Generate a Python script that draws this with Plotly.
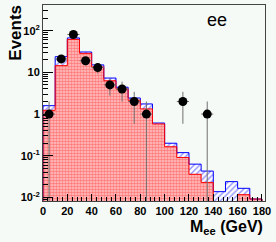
import plotly.graph_objects as go

# ---- data ----
bin_edges = [0, 10, 20, 30, 40, 50, 60, 70, 80, 90, 100, 110, 120, 130, 140, 150, 160, 170, 180]
bin_centers = [5, 15, 25, 35, 45, 55, 65, 75, 85, 95, 105, 115, 125, 135, 145, 155, 165, 175]
total_mc = [1.59, 23.8, 67, 30.8, 15.1, 7.3, 4.4, 2.43, 1.75, 0.61, 0.20, 0.119, 0.063, 0.043,
            0.0138, 0.024, 0.0166, 0.0092]
signal_mc = [1.23, 14.5, 61.7, 28.6, 13.5, 6.3, 3.98, 2.15, 1.33, 0.58, 0.165, 0.091, 0.036, 0.023,
             0, 0, 0.0117, 0.0092]
data_x = [5, 15, 25, 35, 45, 55, 65, 75, 85, 115, 135]
data_y = [1, 21, 81, 19, 13, 5, 4, 2, 1, 2, 1]
data_err = [v ** 0.5 for v in data_y]
data_xerr = [5] * len(data_x)

y_tickvals = [0.01, 0.1, 1, 10, 100]
y_ticktext = ["10<sup>-2</sup>", "10<sup>-1</sup>", "1", "10", "10<sup>2</sup>"]
x_tickvals = [0, 20, 40, 60, 80, 100, 120, 140, 160, 180]

BG = "#f6faf6"
FONT = "Liberation Sans, Arial, Helvetica, sans-serif"


def step(vals):
    floor = 1e-5
    xs = [bin_edges[0]] + bin_edges[:]
    ys = [floor] + [v if v > 0 else floor for v in vals] + [floor]
    return xs, ys


fig = go.Figure()

# total MC (blue hatched)
fig.add_trace(go.Bar(
    x=bin_centers, y=total_mc, width=10,
    marker=dict(color="rgba(0,0,0,0)", line=dict(width=0),
                pattern=dict(shape="/", fgcolor="#2020ff", bgcolor="#ffffff", size=4, solidity=0.35)),
    showlegend=False, hoverinfo="skip"))
# signal MC (red checkered)
fig.add_trace(go.Bar(
    x=bin_centers, y=[v if v > 0 else None for v in signal_mc], width=10,
    marker=dict(color="rgba(0,0,0,0)", line=dict(width=0),
                pattern=dict(shape=".", fgcolor="#ff2a2a", bgcolor="#ffcaca", size=3, solidity=0.6)),
    showlegend=False, hoverinfo="skip"))

sx, sy = step(total_mc)
fig.add_trace(go.Scatter(x=sx, y=sy, mode="lines", line=dict(color="#0000ff", width=1, shape="hv"),
                         showlegend=False, hoverinfo="skip"))
sx, sy = step(signal_mc)
fig.add_trace(go.Scatter(x=sx, y=sy, mode="lines", line=dict(color="#ff0000", width=1, shape="hv"),
                         showlegend=False, hoverinfo="skip"))

# data points
fig.add_trace(go.Scatter(
    x=data_x, y=data_y, mode="markers",
    marker=dict(color="black", size=9),
    error_y=dict(type="data", array=data_err, arrayminus=data_err, color="#707070", thickness=1, width=0),
    error_x=dict(type="data", array=data_xerr, color="#707070", thickness=1, width=0),
    showlegend=False, hoverinfo="skip"))

minor_y = [m * 10 ** e for e in range(-3, 3) for m in range(2, 10)]

fig.update_layout(
    width=276, height=242,
    margin=dict(l=43, r=11, t=5, b=41),
    paper_bgcolor=BG, plot_bgcolor=BG,
    barmode="overlay", bargap=0,
    hovermode=False,
    font=dict(family=FONT, color="black"),
    xaxis=dict(range=[0, 182.5], tickvals=x_tickvals, ticks="inside", ticklen=7, tickcolor="black",
               showgrid=False, zeroline=False, showline=True, linecolor="#444", mirror=True,
               tickfont=dict(size=11, weight="bold", family=FONT),
               minor=dict(dtick=4, tick0=0, ticks="inside", ticklen=4, tickcolor="black", showgrid=False)),
    yaxis=dict(type="log", range=[-2.084, 2.615], tickvals=y_tickvals, ticktext=y_ticktext,
               ticks="inside", ticklen=10, tickcolor="black",
               showgrid=False, zeroline=False, showline=True, linecolor="#444", mirror=True,
               tickfont=dict(size=11, weight="bold", family=FONT),
               minor=dict(tickmode="array", tickvals=minor_y, ticks="inside", ticklen=5,
                          tickcolor="black", showgrid=False)),
    annotations=[
        dict(text="Events", xref="paper", yref="paper", x=-0.125, y=0.86, textangle=-90,
             showarrow=False, font=dict(size=17, weight="bold", family=FONT),
             xanchor="center", yanchor="middle"),
        dict(text="M<sub>ee</sub> (GeV)", xref="paper", yref="paper", x=1.0, y=-0.135,
             showarrow=False, font=dict(size=16, weight="bold", family=FONT),
             xanchor="right", yanchor="middle"),
        dict(text="ee", xref="paper", yref="paper", x=0.785, y=0.925,
             showarrow=False, font=dict(size=18, family=FONT),
             xanchor="center", yanchor="middle"),
    ],
)

fig.write_html("out.html", config={"displayModeBar": False, "staticPlot": True},
               post_script="document.body.style.margin='0';document.body.style.background='" + BG + "';")
